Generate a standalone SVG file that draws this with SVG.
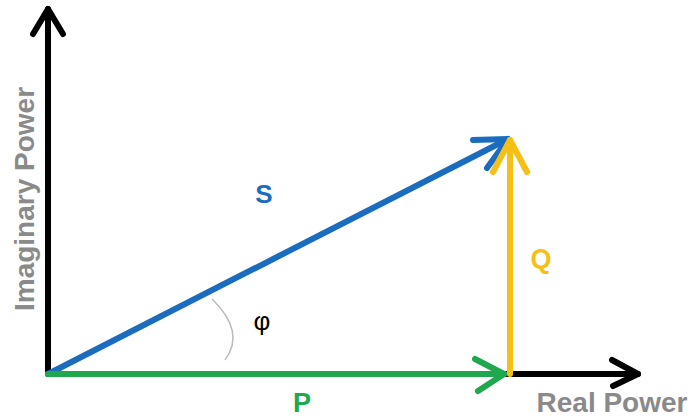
<svg xmlns="http://www.w3.org/2000/svg" width="692" height="419" viewBox="0 0 692 419">
<style>
.ln{fill:none;stroke-linecap:round;stroke-linejoin:round}
.ax{stroke:#000;stroke-width:6}
.s{stroke:#1a6cbf;stroke-width:6}
.p{stroke:#20a84e;stroke-width:6}
.q{stroke:#f5bf16;stroke-width:6}
.lbl{font-family:"Liberation Sans",Arial,sans-serif;font-weight:bold}
.axl{fill:#8a8a8a;font-size:28px}
</style>
<rect width="692" height="419" fill="#fff"/>
<g id="connectors">
<g id="y-axis"><path class="ln ax" d="M48 374 L48 9"/><path class="ln ax" d="M33 34 L48 9 L63 34"/></g>
<g id="x-axis"><path class="ln ax" d="M505 374 L638 374"/><path class="ln ax" d="M612 360 L638 374 L613 386"/></g>
<g id="S-vector"><path class="ln s" d="M48 374 L508 139"/><path class="ln s" d="M473 140 L508 139 L487 168"/></g>
<g id="P-vector"><path class="ln p" d="M48 374 L504 374"/><path class="ln p" d="M475 359 L504 374 L478 391"/></g>
<g id="Q-vector"><path class="ln q" d="M510 374 L510 140"/><path class="ln q" d="M493 172 L510 140 L527 172"/></g>
<path id="angle-arc" d="M212 299 Q246 332 225 360" fill="none" stroke="#bbb" stroke-width="1.5"/>
</g>
<g id="label-S"><text class="lbl" x="264" y="203" font-size="26" fill="#1a6cbf" text-anchor="middle">S</text></g>
<g id="label-Q"><text class="lbl" x="541" y="268" font-size="27" fill="#f5bf16" text-anchor="middle">Q</text></g>
<g id="label-P"><text class="lbl" x="302" y="412" font-size="27" fill="#20a84e" text-anchor="middle">P</text></g>
<g id="label-phi"><text x="262" y="330" font-family="'Liberation Sans',Arial,sans-serif" font-size="26" fill="#000" text-anchor="middle">φ</text></g>
<g id="label-real"><text class="lbl axl" x="612" y="412" text-anchor="middle">Real Power</text></g>
<g id="label-imag"><text class="lbl axl" transform="translate(34 199) rotate(-90)" text-anchor="middle" font-size="27">Imaginary Power</text></g>
</svg>
